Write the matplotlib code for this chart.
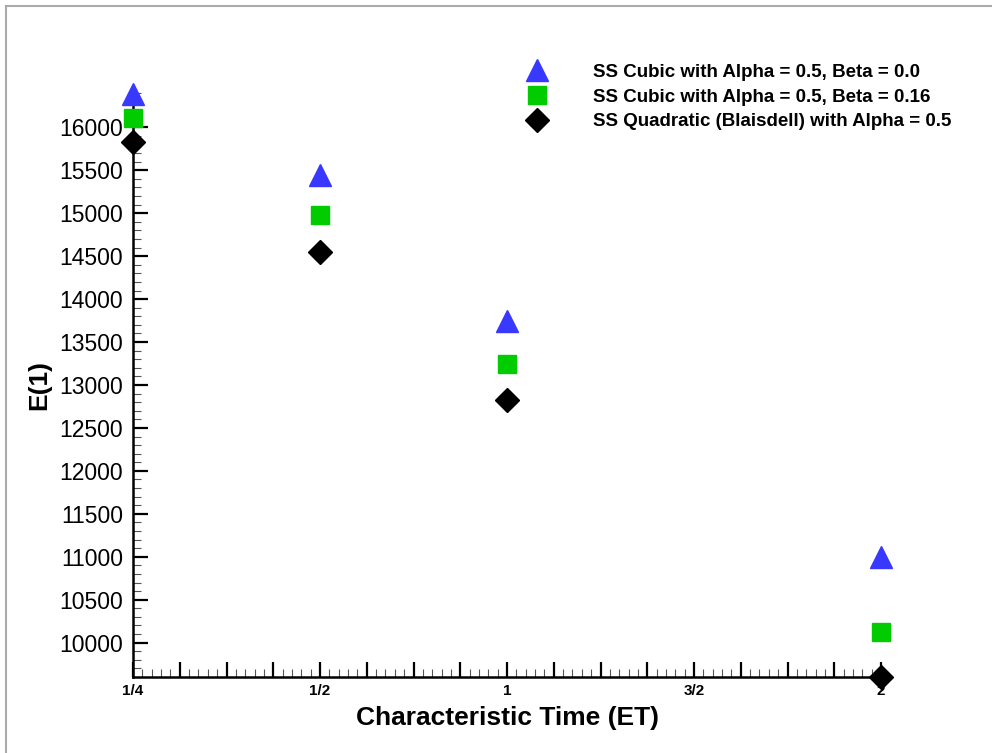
import numpy as np
import matplotlib.pyplot as plt
from matplotlib.lines import Line2D
from matplotlib.ticker import FixedLocator, MultipleLocator, FuncFormatter

plt.rcParams['font.family'] = ['Liberation Sans', 'DejaVu Sans']

# categorical time axis
time_labels = ['1/4', '1/2', '1', '3/2', '2']
time_pos = [0, 1, 2, 4]   # positions of the measured times 1/4, 1/2, 1, 2

cubic_b00 = [16385, 15440, 13750, 11000]
cubic_b016 = [16110, 14975, 13250, 10125]
quad_blaisdell = [15830, 14545, 12830, 9600]

fig = plt.figure(figsize=(9.92, 7.53), dpi=100)
ax = fig.add_axes([133/992, 76/753, 748/992, 584/753])

ax.plot(time_pos, cubic_b00, linestyle='none', marker='^', ms=16, color='#3838ff',
        clip_on=False, zorder=5, label='SS Cubic with Alpha = 0.5, Beta = 0.0')
ax.plot(time_pos, cubic_b016, linestyle='none', marker='s', ms=12.5, color='#00cc00',
        clip_on=False, zorder=5, label='SS Cubic with Alpha = 0.5, Beta = 0.16')
ax.plot(time_pos, quad_blaisdell, linestyle='none', marker='D', ms=12, color='black',
        clip_on=False, zorder=5, label='SS Quadratic (Blaisdell) with Alpha = 0.5')

ax.set_xlim(0, 4)
ax.set_ylim(9600, 16400)

for s in ['top', 'right']:
    ax.spines[s].set_visible(False)
for s in ['left', 'bottom']:
    ax.spines[s].set_linewidth(1.8)

# x ticks: majors every quarter, labels only at the named times
ax.xaxis.set_major_locator(FixedLocator(np.arange(0, 4.01, 0.25)))
ax.xaxis.set_minor_locator(MultipleLocator(0.05))
ax.xaxis.set_major_formatter(FuncFormatter(
    lambda v, p: time_labels[int(round(v))] if abs(v - round(v)) < 1e-6 else ''))

ax.yaxis.set_major_locator(MultipleLocator(500))
ax.yaxis.set_minor_locator(MultipleLocator(100))

ax.tick_params(which='major', direction='in', length=11, width=1.6)
ax.tick_params(which='minor', direction='in', length=6, width=0.8, color='#555555')
ax.tick_params(axis='x', which='major', labelsize=11, pad=5)
ax.tick_params(axis='y', which='major', labelsize=16.5, pad=7)
for t in ax.get_xticklabels():
    t.set_fontweight('bold')

ax.set_xlabel('Characteristic Time (ET)', fontsize=19, fontweight='bold', labelpad=6)
ax.set_ylabel('E(1)', fontsize=19, fontweight='bold', labelpad=6)

ax.legend(loc='upper left', bbox_to_anchor=(0.5147, 1.05), frameon=False,
          prop={'weight': 'bold', 'size': 13.5}, handletextpad=2.0,
          labelspacing=0.4, borderaxespad=0, borderpad=0, handlelength=2)

# grey frame lines on top and left of the page
fig.add_artist(Line2D([6/992, 1], [1 - 6/753, 1 - 6/753], color='#aaaaaa', lw=1.5))
fig.add_artist(Line2D([6/992, 6/992], [0, 1 - 6/753], color='#aaaaaa', lw=1.5))

plt.savefig('out.png', dpi=100)
